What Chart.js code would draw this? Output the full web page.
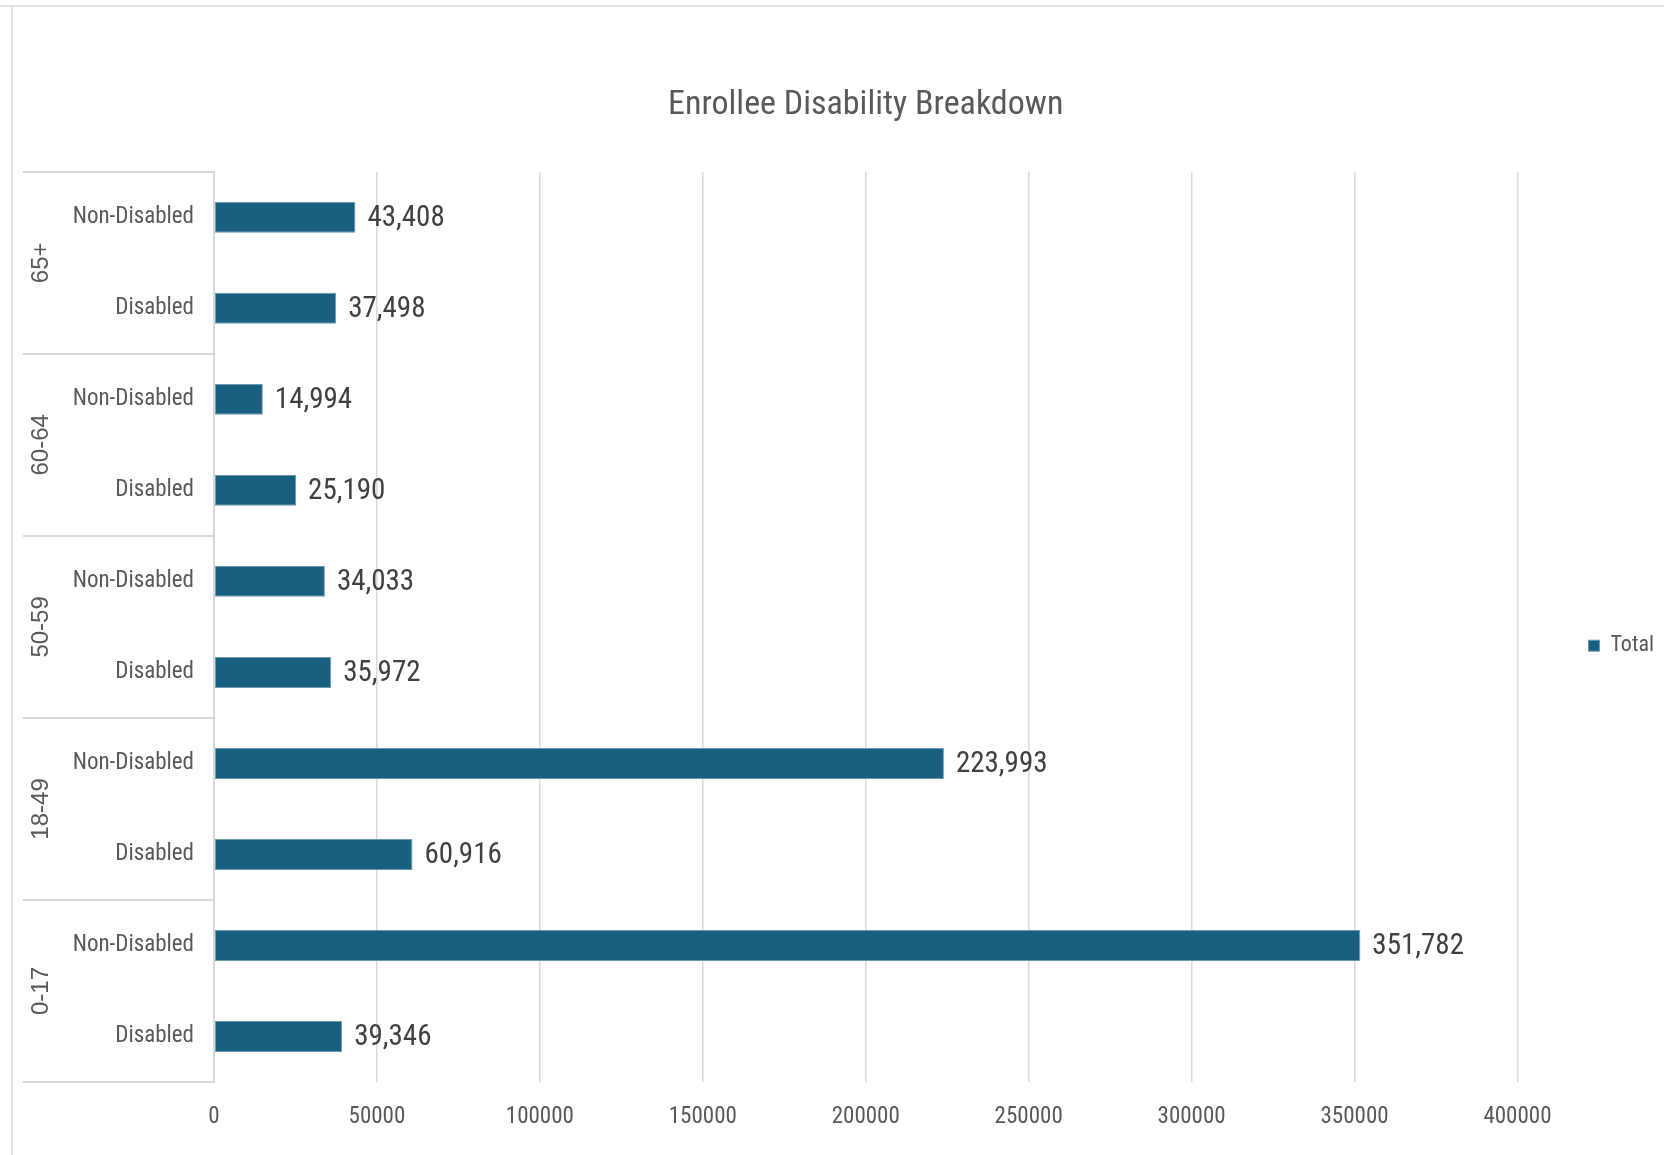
<!DOCTYPE html>
<html>
<head>
<meta charset="utf-8">
<title>Enrollee Disability Breakdown</title>
<script src="https://cdn.jsdelivr.net/npm/chart.js@4.4.1/dist/chart.umd.min.js"></script>
<style>
  html, body { margin: 0; padding: 0; background: #fff; }
  #chart { display: block; }
</style>
</head>
<body>
<canvas id="chart" width="1664" height="1155"></canvas>
<script>
// age groups, top to bottom as in the picture
const groups = ['65+', '60-64', '50-59', '18-49', '0-17'];
const statuses = ['Non-Disabled', 'Disabled'];
// one value per group x status, same order
const totals = [43408, 37498, 14994, 25190, 34033, 35972, 223993, 60916, 351782, 39346];
const xTicks = [0, 50000, 100000, 150000, 200000, 250000, 300000, 350000, 400000];

const NARROW = "'Roboto Condensed', 'Liberation Sans', sans-serif";
const GREY = '#595959';
const LINE = '#d9d9d9';

const labels = [];
groups.forEach(() => statuses.forEach((s) => labels.push(s)));

// age-group boxes and rotated labels left of the category ticks
const groupAxis = {
  id: 'groupAxis',
  afterDraw(chart) {
    const { ctx, chartArea } = chart;
    const y = chart.scales.y;
    const half = (y.getPixelForValue(1) - y.getPixelForValue(0)) / 2;
    ctx.save();
    // frame edges left over in the screenshot
    ctx.strokeStyle = '#e3e3e3';
    ctx.lineWidth = 2;
    ctx.beginPath();
    ctx.moveTo(0, 6); ctx.lineTo(chart.width, 6);
    ctx.moveTo(12, 6); ctx.lineTo(12, chart.height);
    ctx.stroke();

    ctx.strokeStyle = LINE;
    ctx.beginPath();
    for (let g = 0; g <= groups.length; g++) {
      const py = Math.round(y.getPixelForValue(g * statuses.length) - half);
      ctx.moveTo(23, py);
      ctx.lineTo(chartArea.left, py);
    }
    ctx.stroke();

    ctx.fillStyle = GREY;
    ctx.font = "24px 'Liberation Sans', sans-serif";
    ctx.textAlign = 'center';
    ctx.textBaseline = 'middle';
    groups.forEach((g, i) => {
      const a = y.getPixelForValue(i * statuses.length) - half;
      const b = y.getPixelForValue((i + 1) * statuses.length) - half;
      ctx.save();
      ctx.translate(41, (a + b) / 2);
      ctx.rotate(-Math.PI / 2);
      ctx.fillText(g, 0, 0);
      ctx.restore();
    });
    ctx.restore();
  }
};

// value labels at the end of each bar
const valueLabels = {
  id: 'valueLabels',
  afterDatasetsDraw(chart) {
    const { ctx } = chart;
    const meta = chart.getDatasetMeta(0);
    ctx.save();
    ctx.fillStyle = '#404040';
    ctx.font = '29px ' + NARROW;
    ctx.textBaseline = 'middle';
    meta.data.forEach((bar, i) => {
      ctx.fillText(totals[i].toLocaleString('en-US'), bar.x + 12, bar.y + 1);
    });
    ctx.restore();
  }
};

new Chart(document.getElementById('chart'), {
  type: 'bar',
  data: {
    labels: labels,
    datasets: [{
      label: 'Total',
      data: totals,
      backgroundColor: '#185f80',
      borderColor: '#6a9ab2',
      borderWidth: 1,
      borderSkipped: false,
      barPercentage: 0.34,
      categoryPercentage: 1
    }]
  },
  options: {
    indexAxis: 'y',
    responsive: false,
    animation: false,
    layout: { padding: { top: 0, right: 0, bottom: 0, left: 0 } },
    scales: {
      x: {
        min: xTicks[0],
        max: xTicks[xTicks.length - 1],
        afterBuildTicks(axis) { axis.ticks = xTicks.map((v) => ({ value: v })); },
        afterFit(axis) { axis.height = 73; },
        grid: { color: LINE, lineWidth: 1.5, drawTicks: false },
        border: { display: false },
        ticks: { padding: 21, color: GREY, font: { family: NARROW, size: 23 }, callback: (v) => String(v) }
      },
      y: {
        afterFit(axis) { axis.width = 214; },
        grid: { display: false, drawTicks: false },
        border: { display: true, color: LINE, width: 2 },
        ticks: { padding: 20, color: GREY, font: { family: NARROW, size: 23 } }
      }
    },
    plugins: {
      title: {
        display: true,
        fullSize: false,
        text: 'Enrollee Disability Breakdown',
        color: GREY,
        font: { family: NARROW, size: 34, weight: 'normal' },
        padding: { top: 85, bottom: 46 }
      },
      legend: {
        position: 'right',
        title: { display: true, text: '', font: { size: 12 }, padding: { top: 0, bottom: 122 } },
        labels: { boxWidth: 11, boxHeight: 11, padding: 71, color: GREY, font: { family: NARROW, size: 22 } }
      },
      tooltip: { enabled: false }
    }
  },
  plugins: [groupAxis, valueLabels]
});
</script>
</body>
</html>
